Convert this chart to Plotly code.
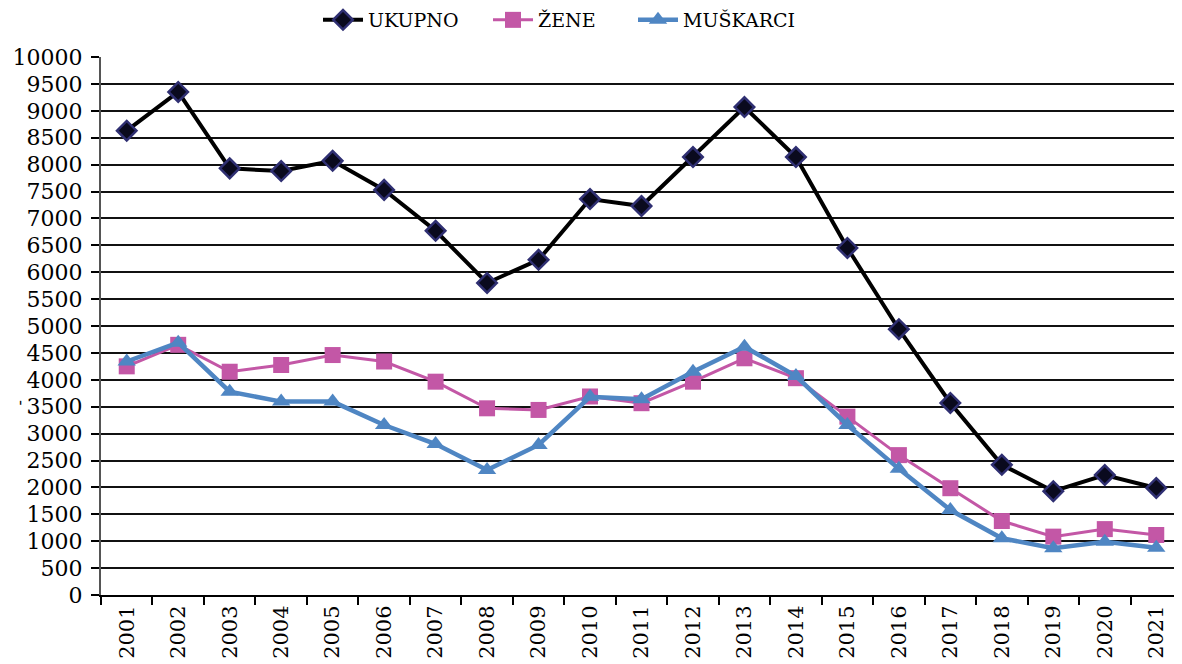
import plotly.graph_objects as go

years = [str(y) for y in range(2001, 2022)]
ukupno = [8630, 9350, 7930, 7880, 8070, 7530, 6770, 5800, 6230, 7360, 7230,
          8140, 9070, 8140, 6450, 4940, 3570, 2420, 1930, 2230, 1990]
zene = [4250, 4650, 4150, 4275, 4460, 4340, 3965, 3470, 3440, 3690, 3565,
        3965, 4400, 4030, 3315, 2600, 1985, 1375, 1085, 1225, 1115]
muskarci = [4340, 4690, 3780, 3595, 3595, 3160, 2805, 2325, 2790, 3685, 3640,
            4150, 4615, 4070, 3160, 2345, 1580, 1055, 870, 990, 880]
y_ticks = list(range(0, 10001, 500))

FONT = "DejaVu Serif"
W, H = 1174, 656  # page body adds an 8px margin

fig = go.Figure()
fig.add_trace(go.Scatter(
    x=years, y=ukupno, name="UKUPNO", mode="lines+markers", legend="legend",
    line=dict(color="#000000", width=4),
    marker=dict(symbol="diamond", size=15, color="#0a0a1e",
                line=dict(color="#2f2f72", width=2.5)),
))
fig.add_trace(go.Scatter(
    x=years, y=zene, name="ŽENE", mode="lines+markers", legend="legend2",
    line=dict(color="#c357a6", width=3),
    marker=dict(symbol="square", size=16, color="#c357a6"),
))
fig.add_trace(go.Scatter(
    x=years, y=muskarci, name="MUŠKARCI", mode="lines+markers", legend="legend3",
    line=dict(color="#4f86c3", width=4.5),
    marker=dict(symbol="triangle-up", size=16, color="#4f86c3"),
))

def leg(xpx):
    return dict(orientation="h", xref="container", x=xpx / W, xanchor="left",
                yref="container", y=1 - 12 / H, yanchor="middle",
                font=dict(family=FONT, size=19), itemwidth=40,
                bgcolor="rgba(0,0,0,0)")

fig.update_layout(
    width=W, height=H,
    margin=dict(l=93, r=0, t=49, b=69, autoexpand=False),
    paper_bgcolor="white", plot_bgcolor="white",
    font=dict(family=FONT, color="#000000", size=20),
    showlegend=True,
    legend=leg(310), legend2=leg(480), legend3=leg(625),
    xaxis=dict(
        type="category", range=[-0.5, 20.5], automargin=False,
        tickangle=-90, tickson="boundaries",
        ticks="outside", ticklen=8, tickwidth=1.5, tickcolor="#000000",
        showline=True, linecolor="#000000", linewidth=2,
        showgrid=False, tickfont=dict(family=FONT, size=21),
        mirror=False,
    ),
    yaxis=dict(
        range=[0, 10000], tickvals=y_ticks, automargin=False,
        ticktext=[str(v) for v in y_ticks],
        ticks="outside", ticklen=8, tickwidth=1.5, tickcolor="#000000",
        showline=True, linecolor="#555555", linewidth=2,
        showgrid=True, gridcolor="#111111", gridwidth=1.5,
        zeroline=False, tickfont=dict(family=FONT, size=22),
        ticklabelstandoff=4,
    ),
)

fig.add_annotation(
    x=0, xref="paper", xanchor="left", xshift=-93,
    y=3570, yref="y", text="-", textangle=-90, showarrow=False,
    font=dict(family=FONT, size=16, color="#000000"),
)

fig.write_html("out.html")
